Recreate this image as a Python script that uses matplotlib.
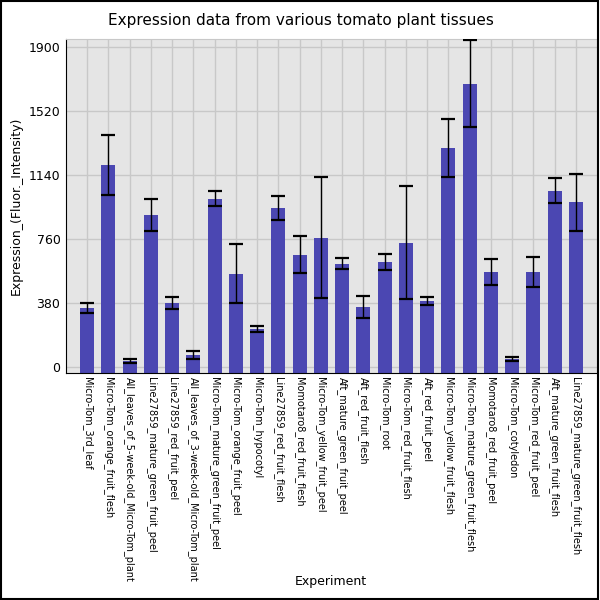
import matplotlib
matplotlib.use('Agg')
import matplotlib.pyplot as plt
import numpy as np

# tissue names, in plot order
experiments = [
    'Micro-Tom_3rd_leaf', 'Micro-Tom_orange_fruit_flesh', 'All_leaves_of_5-week-old_Micro-Tom_plant',
    'Line27859_mature_green_fruit_peel', 'Line27859_red_fruit_peel', 'All_leaves_of_3-week-old_Micro-Tom_plant',
    'Micro-Tom_mature_green_fruit_peel', 'Micro-Tom_orange_fruit_peel', 'Micro-Tom_hypocotyl',
    'Line27859_red_fruit_flesh', 'Momotaro8_red_fruit_flesh', 'Micro-Tom_yellow_fruit_peel',
    'Aft_mature_green_fruit_peel', 'Aft_red_fruit_flesh', 'Micro-Tom_root', 'Micro-Tom_red_fruit_flesh',
    'Aft_red_fruit_peel', 'Micro-Tom_yellow_fruit_flesh', 'Micro-Tom_mature_green_fruit_flesh',
    'Momotaro8_red_fruit_peel', 'Micro-Tom_cotyledon', 'Micro-Tom_red_fruit_peel',
    'Aft_mature_green_fruit_flesh', 'Line27859_mature_green_fruit_flesh',
]
expression = [352, 1200, 38, 903, 382, 72, 1000, 555, 226, 943, 668, 769,
              615, 356, 622, 739, 393, 1300, 1683, 566, 48, 566, 1048, 978]
errors = [31, 178, 13, 93, 35, 25, 44, 177, 18, 72, 112, 358,
          34, 64, 48, 334, 23, 173, 260, 78, 11, 90, 75, 170]
yticks = [0, 380, 760, 1140, 1520, 1900]

ymin, ymax = -36, 1948

fig = plt.figure(figsize=(6, 6), dpi=100)
ax = fig.add_axes([0.11, 0.378, 0.885, 0.557])
ax.set_facecolor('#e5e5e5')

x = np.arange(len(experiments))
vals = np.array(expression)
# bars start at the bottom of the axes, like the reference
ax.bar(x, vals - ymin, bottom=ymin, width=0.66, color='#4b47b2', zorder=2)
ax.errorbar(x, vals, yerr=errors, fmt='none', ecolor='black', elinewidth=1,
            capsize=5, capthick=1.6, zorder=3)

ax.set_xlim(-1, 24)
ax.set_ylim(ymin, ymax)
ax.set_yticks(yticks)
ax.set_xticks(x)
ax.set_xticklabels(experiments, rotation=-90, fontsize=7)
ax.tick_params(axis='y', length=0, labelsize=9, pad=4)
ax.tick_params(axis='x', length=0, pad=3)
ax.grid(True, color='#c8c8c8', linewidth=1, zorder=0)
ax.set_axisbelow(True)

for side in ['top', 'right']:
    ax.spines[side].set_color('#c8c8c8')
for side in ['left', 'bottom']:
    ax.spines[side].set_color('black')

fig.text(0.502, 0.965, 'Expression data from various tomato plant tissues', ha='center', va='center', fontsize=11)
ax.set_ylabel('Expression_(Fluor._Intensity)', fontsize=9)
fig.text(0.552, 0.025, 'Experiment', ha='center', fontsize=9)

# black frame round the picture
fig.patches.append(plt.Rectangle((0.001, 0.001), 0.995, 0.997, transform=fig.transFigure,
                                 fill=False, edgecolor='black', linewidth=1.5))

fig.savefig('out.png', dpi=100)
